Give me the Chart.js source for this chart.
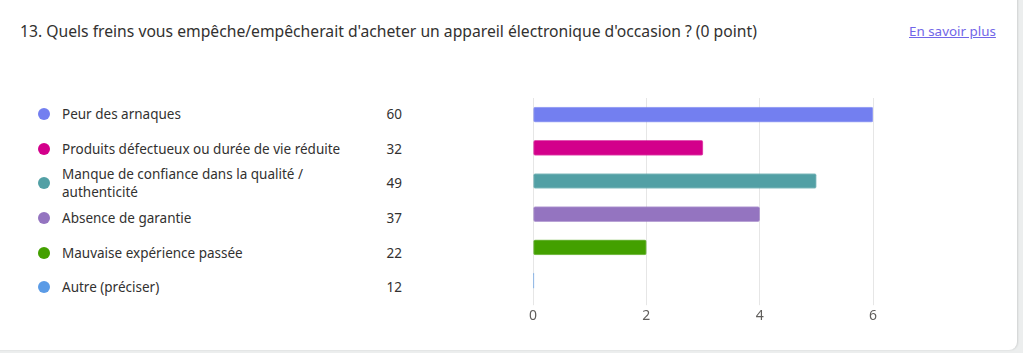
<!DOCTYPE html>
<html>
<head>
<meta charset="utf-8">
<script src="https://cdn.jsdelivr.net/npm/chart.js@4"></script>
<style>
  html, body { margin: 0; padding: 0; }
  body {
    width: 1023px; height: 353px; overflow: hidden; position: relative;
    background: #eceeee;
    font-family: "Noto Sans", "Open Sans", sans-serif;
    color: #323130;
  }
  .card {
    position: absolute; left: -10px; top: -10px; width: 1027px; height: 360px;
    background: #fff; border-radius: 8px;
    box-shadow: 1px 0 2px rgba(0,0,0,0.12);
  }
  .title {
    position: absolute; left: 20px; top: 20px; font-size: 15.7px; white-space: nowrap;
  }
  .more {
    position: absolute; left: 909px; top: 22px; font-size: 13.4px;
    color: #7166e8; text-decoration: underline; white-space: nowrap;
  }
  .legend { position: absolute; left: 38px; top: 97px; width: 370px; }
  .row {
    position: relative; height: 34.6px; display: flex; align-items: center;
    font-size: 13.5px; line-height: 18px;
  }
  .dot { width: 12px; height: 12px; border-radius: 50%; flex: none; margin-right: 12px; }
  .lab { width: 290px; }
  .cnt { position: absolute; right: 6px; }
  .chartbox { position: absolute; left: 523px; top: 90px; width: 360px; height: 236px; }
</style>
</head>
<body>
<div class="card"></div>
<div class="title">13. Quels freins vous empêche/empêcherait d'acheter un appareil électronique d'occasion ? (0 point)</div>
<div class="more">En savoir plus</div>
<div class="legend" id="legend"></div>
<div class="chartbox"><canvas id="chart"></canvas></div>
<script>
const categories = [
  'Peur des arnaques',
  'Produits défectueux ou durée de vie réduite',
  'Manque de confiance dans la qualité / authenticité',
  'Absence de garantie',
  'Mauvaise expérience passée',
  'Autre (préciser)'
];
const counts = [60, 32, 49, 37, 22, 12];
const barValues = [6, 3, 5, 4, 2, 0];
const colors = ['#737ff0', '#d3008b', '#52a0a5', '#9474c0', '#43a000', '#5b9be6'];
const tickValues = [0, 2, 4, 6];

// legend on the left
const legend = document.getElementById('legend');
categories.forEach((c, i) => {
  const row = document.createElement('div');
  row.className = 'row';
  row.innerHTML = '<span class="dot" style="background:' + colors[i] + '"></span>' +
    '<span class="lab">' + c + '</span><span class="cnt">' + counts[i] + '</span>';
  legend.appendChild(row);
});

new Chart(document.getElementById('chart'), {
  type: 'bar',
  data: {
    labels: categories,
    datasets: [{
      data: barValues,
      backgroundColor: colors,
      borderColor: colors.map(c => c + 'aa'),
      borderWidth: 1,
      borderRadius: 2,
      borderSkipped: false,
      barThickness: 15,
      minBarLength: 1
    }]
  },
  options: {
    indexAxis: 'y',
    responsive: true,
    maintainAspectRatio: false,
    animation: false,
    layout: { padding: { left: 10, right: 10, top: 8, bottom: 0 } },
    plugins: { legend: { display: false }, tooltip: { enabled: false } },
    scales: {
      x: {
        min: 0,
        max: 6,
        afterBuildTicks: axis => { axis.ticks = tickValues.map(v => ({ value: v })); },
        grid: { color: '#e6e6e6', tickLength: 8, drawTicks: true },
        border: { display: false },
        ticks: { color: '#605e5c', font: { family: 'Noto Sans', size: 14 }, padding: 2 }
      },
      y: { display: false }
    }
  }
});
</script>
</body>
</html>
